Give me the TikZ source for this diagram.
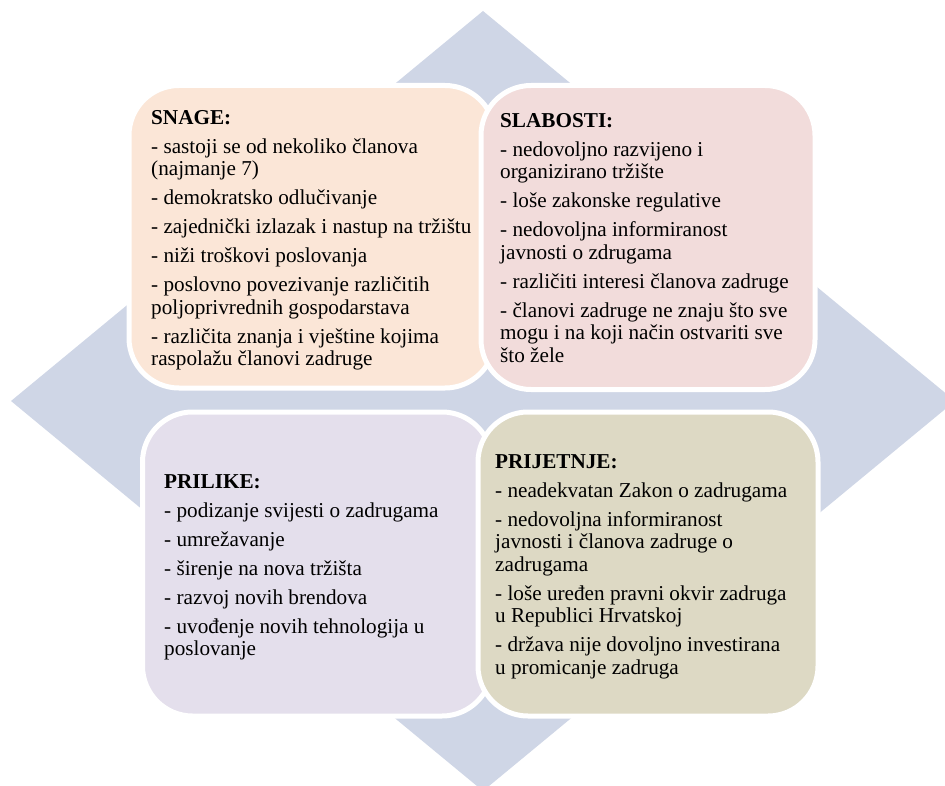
\documentclass[tikz,border=0pt]{standalone}
\usepackage{fontspec}
\setmainfont{Liberation Serif}
\definecolor{diam}{HTML}{CFD6E6}
\definecolor{snagec}{HTML}{FBE6D7}
\definecolor{slabc}{HTML}{F2DCDB}
\definecolor{prilc}{HTML}{E4DFEC}
\definecolor{prijc}{HTML}{DDD9C4}
\tikzset{
  quad/.style={draw=white, line width=5pt, rounded corners=50pt, inner sep=0pt},
  txt/.style={anchor=north west, inner sep=0pt, align=left, font=\fontsize{21.2}{22.5}\selectfont},
}
\begin{document}
\begin{tikzpicture}[x=1pt,y=-1pt]
\useasboundingbox (0,0) rectangle (945,786);
\fill[diam] (483,11) -- (955,401) -- (483,791) -- (11,401) -- cycle;
\node[quad, fill=snagec, minimum width=366pt, minimum height=302.5pt] (snage) at (312,236.75) {};
\node[quad, fill=slabc, minimum width=334pt, minimum height=304pt] (slabosti) at (648,237.5) {};
\node[quad, fill=prilc, minimum width=349.5pt, minimum height=304pt] (prilike) at (317.25,564) {};
\node[quad, fill=prijc, minimum width=340pt, minimum height=304pt] (prijetnje) at (648,564) {};
\node[txt] (snaget) at (151,108.25) {\strut\textbf{SNAGE:}\\[6.5pt]
- sastoji se od nekoliko članova\\
(najmanje 7)\\[6.5pt]
- demokratsko odlučivanje\\[6.5pt]
- zajednički izlazak i nastup na tržištu\\[6.5pt]
- niži troškovi poslovanja\\[6.5pt]
- poslovno povezivanje različitih\\
poljoprivrednih gospodarstava\\[6.5pt]
- različita znanja i vještine kojima\\
raspolažu članovi zadruge};
\node[txt] (slabt) at (500,111.25) {\strut\textbf{SLABOSTI:}\\[6.5pt]
- nedovoljno razvijeno i\\
organizirano tržište\\[6.5pt]
- loše zakonske regulative\\[6.5pt]
- nedovoljna informiranost\\
javnosti o zdrugama\\[6.5pt]
- različiti interesi članova zadruge\\[6.5pt]
- članovi zadruge ne znaju što sve\\
mogu i na koji način ostvariti sve\\
što žele};
\node[txt] (prilt) at (164,472.25) {\strut\textbf{PRILIKE:}\\[6.5pt]
- podizanje svijesti o zadrugama\\[6.5pt]
- umrežavanje\\[6.5pt]
- širenje na nova tržišta\\[6.5pt]
- razvoj novih brendova\\[6.5pt]
- uvođenje novih tehnologija u\\
poslovanje};
\node[txt] (prijt) at (495,452.25) {\strut\textbf{PRIJETNJE:}\\[6.5pt]
- neadekvatan Zakon o zadrugama\\[6.5pt]
- nedovoljna informiranost\\
javnosti i članova zadruge o\\
zadrugama\\[6.5pt]
- loše uređen pravni okvir zadruga\\
u Republici Hrvatskoj\\[6.5pt]
- država nije dovoljno investirana\\
u promicanje zadruga};
\end{tikzpicture}
\end{document}
